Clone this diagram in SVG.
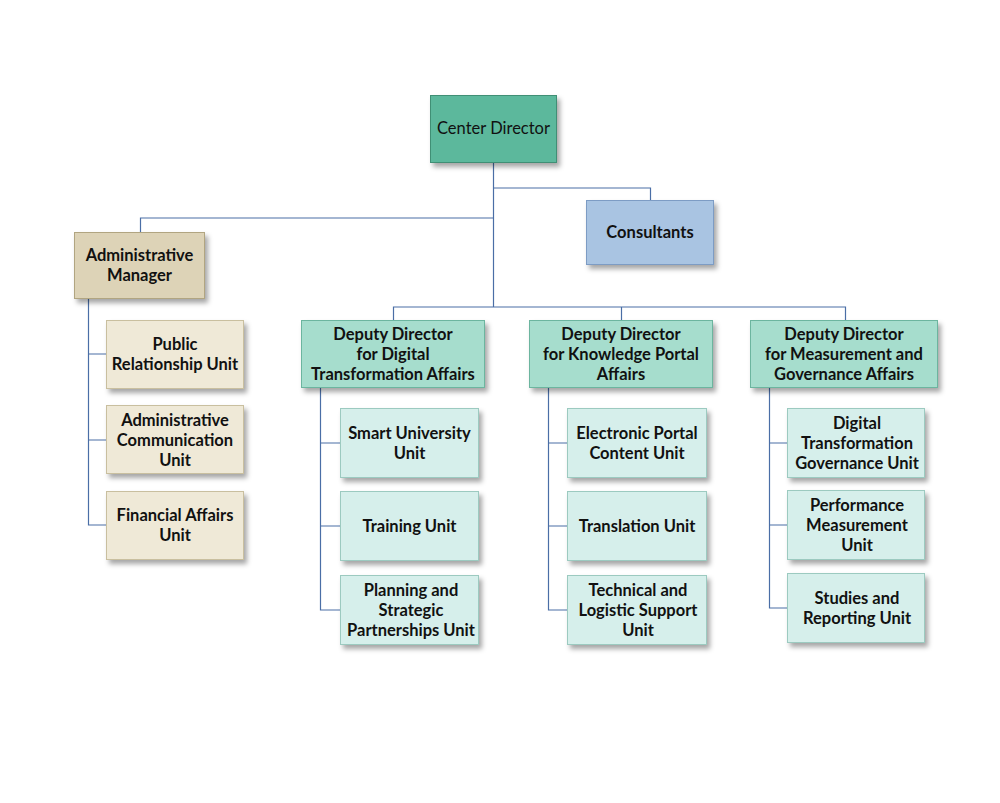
<svg xmlns="http://www.w3.org/2000/svg" width="1000" height="803" viewBox="0 0 1000 803">
<defs>
<filter id="sh" x="-20%" y="-20%" width="150%" height="160%">
<feDropShadow dx="3" dy="4" stdDeviation="2.5" flood-color="#000" flood-opacity="0.35"/>
</filter>
<style>
.b{filter:url(#sh);stroke-width:1}
.cd{fill:#5cb89c;stroke:#3f8f74}
.cs{fill:#a9c4e2;stroke:#7d9cc4}
.am{fill:#ddd3b7;stroke:#b1a581}
.au{fill:#efe9d7;stroke:#c9bf9f}
.dd{fill:#a6ddcd;stroke:#6cb59f}
.du{fill:#d6efeb;stroke:#9ccac0}
text{font-family:Lato,"Liberation Sans",Arial,sans-serif;font-weight:bold;font-size:16.5px;fill:#111;text-anchor:middle}
.c{stroke:#4a6ea6;stroke-width:1.2;fill:none}
</style>
</defs>
<rect width="1000" height="803" fill="#fff"/>
<g id="connectors" class="c">
<path d="M493.5 162V307"/>
<path d="M493.5 188H650.5V200"/>
<path d="M493.5 218H140.5V232"/>
<path d="M393.5 320V307H845.5V320"/>
<path d="M621.5 307V320"/>
<path d="M88.5 299V525H106M88.5 354H106M88.5 440H106"/>
<path d="M320.5 388V610H340M320.5 443H340M320.5 526H340"/>
<path d="M548.5 388V610H567M548.5 443H567M548.5 526H567"/>
<path d="M769.5 388V608H787M769.5 443H787M769.5 525H787"/>
</g>
<g id="center-director"><rect class="b cd" x="430.5" y="95.5" width="126" height="67"/><text x="493.5" y="134" style="font-weight:normal;font-size:16.5px">Center Director</text></g>
<g id="consultants"><rect class="b cs" x="586.5" y="200.5" width="127" height="64"/><text x="650" y="238">Consultants</text></g>
<g id="admin-manager"><rect class="b am" x="74.5" y="232.5" width="130" height="66"/><text x="139.5" y="261">Administrative</text><text x="139.5" y="281">Manager</text></g>
<g id="public-relationship"><rect class="b au" x="106.5" y="320.5" width="137" height="68"/><text x="175" y="350">Public</text><text x="175" y="370">Relationship Unit</text></g>
<g id="admin-communication"><rect class="b au" x="106.5" y="405.5" width="137" height="68"/><text x="175" y="426">Administrative</text><text x="175" y="446">Communication</text><text x="175" y="466">Unit</text></g>
<g id="financial-affairs"><rect class="b au" x="106.5" y="491.5" width="137" height="68"/><text x="175" y="521">Financial Affairs</text><text x="175" y="541">Unit</text></g>
<g id="deputy-digital"><rect class="b dd" x="301.5" y="320.5" width="183" height="67"/><text x="393" y="340">Deputy Director</text><text x="393" y="360">for Digital</text><text x="393" y="380">Transformation Affairs</text></g>
<g id="deputy-knowledge"><rect class="b dd" x="529.5" y="320.5" width="183" height="67"/><text x="621" y="340">Deputy Director</text><text x="621" y="360">for Knowledge Portal</text><text x="621" y="380">Affairs</text></g>
<g id="deputy-measurement"><rect class="b dd" x="750.5" y="320.5" width="187" height="67"/><text x="844" y="340">Deputy Director</text><text x="844" y="360">for Measurement and</text><text x="844" y="380">Governance Affairs</text></g>
<g id="smart-university"><rect class="b du" x="340.5" y="408.5" width="138" height="69"/><text x="409.5" y="439">Smart University</text><text x="409.5" y="459">Unit</text></g>
<g id="training"><rect class="b du" x="340.5" y="491.5" width="138" height="69"/><text x="409.5" y="532">Training Unit</text></g>
<g id="planning"><rect class="b du" x="340.5" y="575.5" width="138" height="69"/><text x="411" y="596">Planning and</text><text x="411" y="616">Strategic</text><text x="411" y="636">Partnerships Unit</text></g>
<g id="electronic-portal"><rect class="b du" x="567.5" y="408.5" width="139" height="69"/><text x="637" y="439">Electronic Portal</text><text x="637" y="459">Content Unit</text></g>
<g id="translation"><rect class="b du" x="567.5" y="491.5" width="139" height="69"/><text x="637" y="532">Translation Unit</text></g>
<g id="technical-support"><rect class="b du" x="567.5" y="575.5" width="139" height="69"/><text x="638" y="596">Technical and</text><text x="638" y="616">Logistic Support</text><text x="638" y="636">Unit</text></g>
<g id="dt-governance"><rect class="b du" x="787.5" y="408.5" width="137" height="69"/><text x="857" y="429">Digital</text><text x="857" y="449">Transformation</text><text x="857" y="469">Governance Unit</text></g>
<g id="performance"><rect class="b du" x="787.5" y="490.5" width="137" height="69"/><text x="857" y="511">Performance</text><text x="857" y="531">Measurement</text><text x="857" y="551">Unit</text></g>
<g id="studies"><rect class="b du" x="787.5" y="573.5" width="137" height="69"/><text x="857" y="604">Studies and</text><text x="857" y="624">Reporting Unit</text></g>
</svg>
